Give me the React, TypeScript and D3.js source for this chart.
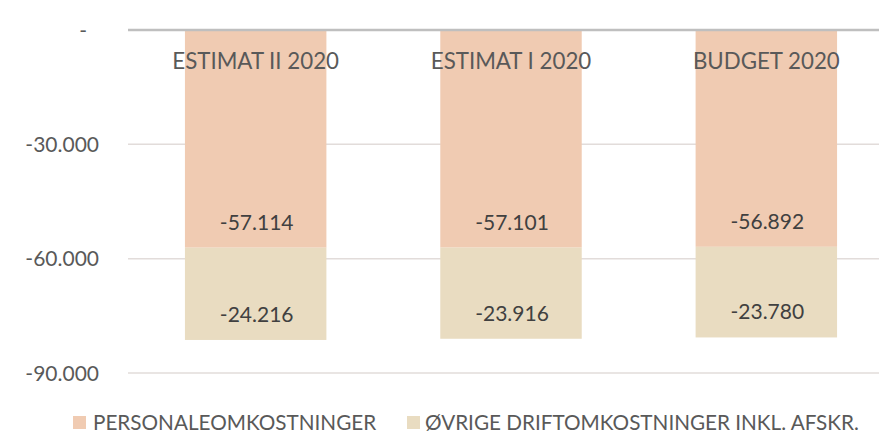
import * as d3 from 'd3'
import * as React from 'react'

const categories: string[] = ['ESTIMAT II 2020', 'ESTIMAT I 2020', 'BUDGET 2020']
const seriesNames: string[] = ['PERSONALEOMKOSTNINGER', 'ØVRIGE DRIFTOMKOSTNINGER INKL. AFSKR.']
const personale: number[] = [-57114, -57101, -56892]
const oevrige: number[] = [-24216, -23916, -23780]
const yTicks: number[] = [0, -30000, -60000, -90000]
const yTickLabels: string[] = ['-', '-30.000', '-60.000', '-90.000']

const colors = ['#F0CBB2', '#E9DCC1']
const W = 879
const H = 437
const FONT = 'Lato, "Open Sans", sans-serif'

const nb = d3.formatLocale({ decimal: ',', thousands: '.', grouping: [3], currency: ['kr ', ''] })
const fmt = nb.format(',d')

export default function App() {
  const x = d3.scaleBand<string>()
    .domain(categories)
    .range([128, 894])
    .paddingInner(0.446)
    .paddingOuter(0.223)
  const y = d3.scaleLinear().domain([-90000, 0]).range([373, 30])

  const rows = categories.map((c, i) => ({ cat: c, s0: personale[i], s1: oevrige[i] }))
  const stack = d3.stack<any>()
    .keys(['s0', 's1'])
    .offset(d3.stackOffsetDiverging)
  const layers = stack(rows)

  const legendX = [73, 407]
  const legendTextX = [93, 425]

  return (
    <svg width={W} height={H} style={{ position: 'fixed', left: 0, top: 0, background: '#fff' }}>
      {/* gridlines */}
      {yTicks.filter(t => t !== 0).map(t => (
        <line key={t} x1={128} x2={W} y1={y(t)} y2={y(t)} stroke="#E2DCDA" strokeWidth={1.5} />
      ))}
      {/* y labels */}
      {yTicks.map((t, i) => (
        <text key={t} x={t === 0 ? 87 : 99} y={y(t)} dy="0.36em" textAnchor="end"
          fontFamily={FONT} fontSize={21} fill="#595959">{yTickLabels[i]}</text>
      ))}
      {/* bars */}
      {layers.map((layer, li) => (
        <g key={layer.key} fill={colors[li]}>
          {layer.map((d: any) => (
            <rect key={d.data.cat} x={x(d.data.cat)} width={x.bandwidth()}
              y={y(d[1])} height={y(d[0]) - y(d[1])} />
          ))}
        </g>
      ))}
      {/* zero line */}
      <line x1={128} x2={W} y1={y(0)} y2={y(0)} stroke="#BFBFBF" strokeWidth={2.5} />
      {/* category labels */}
      {categories.map(c => (
        <text key={c} x={x(c)! + x.bandwidth() / 2} y={69} textAnchor="middle"
          fontFamily={FONT} fontSize={22.3} fill="#595959">{c}</text>
      ))}
      {/* data labels */}
      {layers.map(layer => layer.map((d: any) => {
        const v = d.data[layer.key]
        return (
          <text key={layer.key + d.data.cat} x={x(d.data.cat)! + x.bandwidth() / 2 + 1} y={y(d[0]) - 18}
            textAnchor="middle" fontFamily={FONT} fontSize={21} fill="#404040">{fmt(v).replace('−', '-')}</text>
        )
      }))}
      {/* legend */}
      {seriesNames.map((s, i) => (
        <g key={s}>
          <rect x={legendX[i]} y={416} width={13} height={13} fill={colors[i]} />
          <text x={legendTextX[i]} y={422.5} dy="0.36em" fontFamily={FONT} fontSize={20.7} fill="#595959">{s}</text>
        </g>
      ))}
    </svg>
  )
}
